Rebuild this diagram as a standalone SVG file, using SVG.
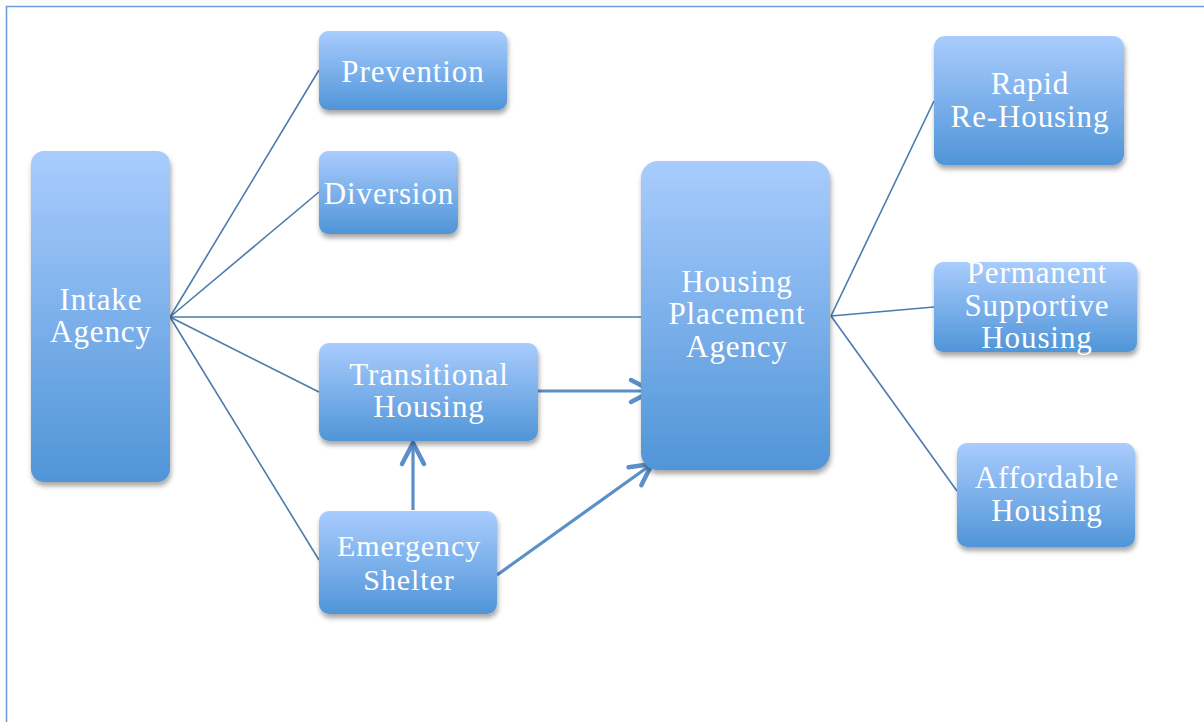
<svg xmlns="http://www.w3.org/2000/svg" width="1204" height="722" viewBox="0 0 1204 722">
<defs>
<linearGradient id="g" x1="0" y1="0" x2="0" y2="1">
<stop offset="0" stop-color="#a9ccfd"/>
<stop offset="1" stop-color="#5095d8"/>
</linearGradient>
<filter id="sh" x="-20%" y="-20%" width="140%" height="140%">
<feDropShadow dx="1" dy="4" stdDeviation="2.5" flood-color="#000" flood-opacity="0.35"/>
</filter>
<marker id="ah" markerUnits="userSpaceOnUse" markerWidth="40" markerHeight="40" viewBox="0 0 40 40" refX="30" refY="20" orient="auto" overflow="visible">
<path d="M9,9 L30,20 L9,31" fill="none" stroke="#5b8fc9" stroke-width="4.5" stroke-linecap="round" stroke-linejoin="round"/>
</marker>
<style>
.box{fill:url(#g);filter:url(#sh);}
.t{font-family:"Liberation Serif",serif;font-size:31px;fill:#ffffff;text-anchor:middle;letter-spacing:0.9px;}
.ln{stroke:#4a7bad;stroke-width:1.6;fill:none;}
.ar{stroke:#5b8fc9;stroke-width:3.2;fill:none;marker-end:url(#ah);}
</style>
</defs>
<rect width="1204" height="722" fill="#ffffff"/>
<path d="M6.5,722 L6.5,6.5 L1204,6.5" fill="none" stroke="#6a9fd8" stroke-width="1.6"/>
<g id="connectors">
<line class="ln" x1="170" y1="317" x2="319" y2="70"/>
<line class="ln" x1="170" y1="317" x2="319" y2="192"/>
<line class="ln" x1="170" y1="317" x2="641" y2="317"/>
<line class="ln" x1="170" y1="317" x2="319" y2="392"/>
<line class="ln" x1="170" y1="317" x2="319" y2="560"/>
<line class="ln" x1="831" y1="316" x2="934" y2="101"/>
<line class="ln" x1="831" y1="316" x2="934" y2="307"/>
<line class="ln" x1="831" y1="316" x2="957" y2="491"/>
<line class="ar" x1="538" y1="391" x2="652" y2="391"/>
<line class="ar" x1="413" y1="510" x2="413" y2="443"/>
<line class="ar" x1="497" y1="575" x2="652" y2="464"/>
</g>
<g id="intake"><rect class="box" x="31" y="151" width="139" height="331" rx="13"/>
<text class="t" x="101" y="310">Intake</text><text class="t" x="101" y="342">Agency</text></g>
<g id="prevention"><rect class="box" x="319" y="31" width="188" height="79" rx="9"/>
<text class="t" x="413" y="82">Prevention</text></g>
<g id="diversion"><rect class="box" x="319" y="151" width="139" height="83" rx="9"/>
<text class="t" x="389" y="204">Diversion</text></g>
<g id="transitional"><rect class="box" x="319" y="343" width="219" height="98" rx="10"/>
<text class="t" x="429" y="385">Transitional</text><text class="t" x="429" y="417">Housing</text></g>
<g id="emergency"><rect class="box" x="319" y="511" width="178" height="103" rx="10"/>
<text class="t" x="409" y="556" style="font-size:30px">Emergency</text><text class="t" x="409" y="590" style="font-size:30px">Shelter</text></g>
<g id="placement"><rect class="box" x="641" y="161" width="189" height="309" rx="17"/>
<text class="t" x="737" y="292">Housing</text><text class="t" x="737" y="324">Placement</text><text class="t" x="737" y="357">Agency</text></g>
<g id="rapid"><rect class="box" x="934" y="36" width="190" height="129" rx="11"/>
<text class="t" x="1030" y="94">Rapid</text><text class="t" x="1030" y="127">Re-Housing</text></g>
<g id="permanent"><rect class="box" x="934" y="262" width="203" height="90" rx="9"/>
<text class="t" x="1037" y="283">Permanent</text><text class="t" x="1037" y="316">Supportive</text><text class="t" x="1037" y="348">Housing</text></g>
<g id="affordable"><rect class="box" x="957" y="443" width="178" height="104" rx="10"/>
<text class="t" x="1047" y="488">Affordable</text><text class="t" x="1047" y="521">Housing</text></g>
</svg>
